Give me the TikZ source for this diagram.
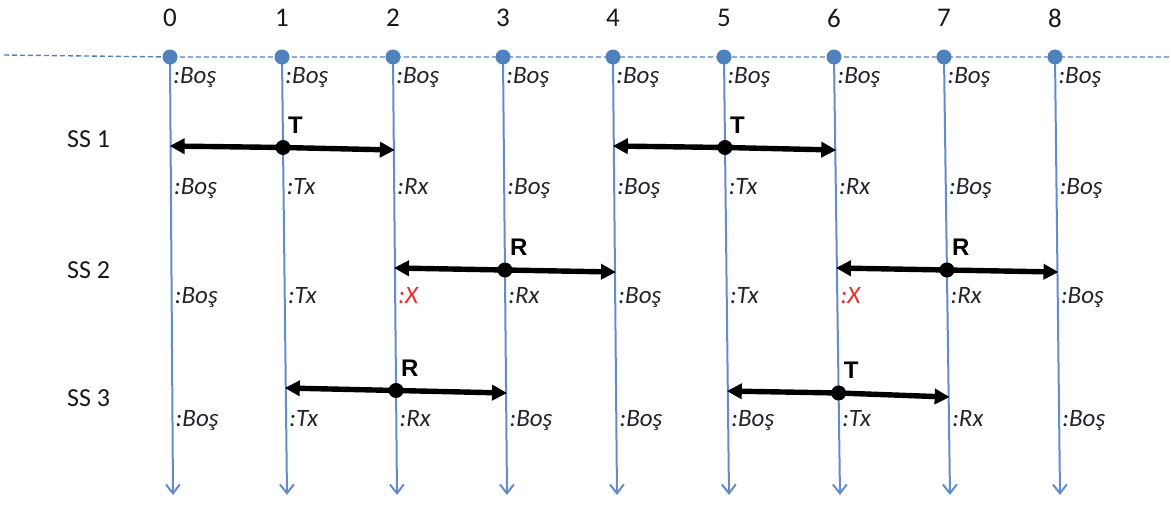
\documentclass[tikz,border=0pt]{standalone}
\usepackage{fontspec}
\setmainfont{Carlito}
\newfontfamily\arialf{Liberation Sans}
\usetikzlibrary{arrows.meta,calc}
\definecolor{dotblue}{RGB}{79,129,189}
\definecolor{lineblue}{RGB}{100,140,200}
\definecolor{labgray}{RGB}{35,35,45}
\definecolor{xred}{RGB}{240,40,40}
\tikzset{
  vline/.style={draw=lineblue, line width=2pt, -{Straight Barb[length=9pt,width=14pt,line width=2pt]}},
  dline/.style={draw=dotblue, line width=1.4pt, dash pattern=on 5pt off 3pt},
  topdot/.style={circle, fill=dotblue, inner sep=0pt, minimum size=15pt},
  numlab/.style={font=\fontsize{27}{30}\selectfont, text=black!90},
  sslab/.style={font=\fontsize{26}{30}\selectfont, text=black!90, anchor=west, inner sep=0pt},
  lab/.style={font=\fontsize{25}{28}\selectfont\itshape, text=labgray, anchor=base west, inner sep=0pt, xshift=3pt},
  redlab/.style={lab, text=xred},
  harrow/.style={draw=black, line width=5.4pt, -{Triangle[length=15pt,width=15pt]}, shorten >=-1pt},
  bdot/.style={circle, fill=black, inner sep=0pt, minimum size=15pt},
  letter/.style={font=\fontsize{24}{28}\selectfont\arialf\bfseries, anchor=south west, inner sep=0pt, xshift=5pt, yshift=14pt}
}
\begin{document}
\begin{tikzpicture}[x=1pt,y=-1pt]
\useasboundingbox (0,0) rectangle (1171,504);
% top and bottom points
\foreach \i/\xt/\xb in {0/170/173,1/282/287,2/393/397,3/503/507,4/613/617,5/724/729,6/834/840,7/944/950,8/1055/1060}{
  \coordinate (t\i) at (\xt,57);
  \coordinate (b\i) at (\xb,495);
  \node[numlab] (n\i) at (\xt,18) {\i};
}
\coordinate (dl) at (4,55);
\coordinate (dr) at (1171,57);
\draw[dline] (dl) -- (t0) -- (dr);
\foreach \i in {0,...,8}{
  \draw[vline] (t\i) -- (b\i);
}
\foreach \i in {0,...,8}{
  \node[topdot] (d\i) at (t\i) {};
}
% row labels
\foreach \i in {0,...,8}{
  \node[lab] (ra\i) at ($(t\i)!0.0594!(b\i)$) {:Boş};
}
\foreach \i/\s/\t in {0/lab/Boş,1/lab/Tx,2/lab/Rx,3/lab/Boş,4/lab/Boş,5/lab/Tx,6/lab/Rx,7/lab/Boş,8/lab/Boş}{
  \node[\s] (rb\i) at ($(t\i)!0.3128!(b\i)$) {:\t};
}
\foreach \i/\s/\t in {0/lab/Boş,1/lab/Tx,2/redlab/X,3/lab/Rx,4/lab/Boş,5/lab/Tx,6/redlab/X,7/lab/Rx,8/lab/Boş}{
  \node[\s] (rc\i) at ($(t\i)!0.5639!(b\i)$) {:\t};
}
\foreach \i/\s/\t in {0/lab/Boş,1/lab/Tx,2/lab/Rx,3/lab/Boş,4/lab/Boş,5/lab/Boş,6/lab/Tx,7/lab/Rx,8/lab/Boş}{
  \node[\s] (rd\i) at ($(t\i)!0.8447!(b\i)$) {:\t};
}
% SS labels
\node[sslab] (ss1) at (67,139) {SS 1};
\node[sslab] (ss2) at (67,270) {SS 2};
\node[sslab] (ss3) at (67,398) {SS 3};
% arrows: name/left/mid/right/fl/fm/fr/letter
\foreach \n/\l/\m/\r/\fl/\fm/\fr/\c in {
  a/0/1/2/0.2032/0.2066/0.2123/T,
  b/4/5/6/0.2032/0.2066/0.2123/T,
  c/2/3/4/0.4817/0.4863/0.4909/R,
  d/6/7/8/0.4817/0.4863/0.4909/R,
  e/1/2/3/0.7557/0.7614/0.7671/R,
  f/5/6/7/0.7626/0.7671/0.7763/T}{
  \coordinate (\n L) at ($(t\l)!\fl!(b\l)$);
  \coordinate (\n M) at ($(t\m)!\fm!(b\m)$);
  \coordinate (\n R) at ($(t\r)!\fr!(b\r)$);
  \draw[harrow] (\n M) -- (\n L);
  \draw[harrow] (\n M) -- (\n R);
  \node[bdot] (\n dot) at (\n M) {};
  \node[letter] (\n let) at (\n M) {\c};
}
\end{tikzpicture}
\end{document}
